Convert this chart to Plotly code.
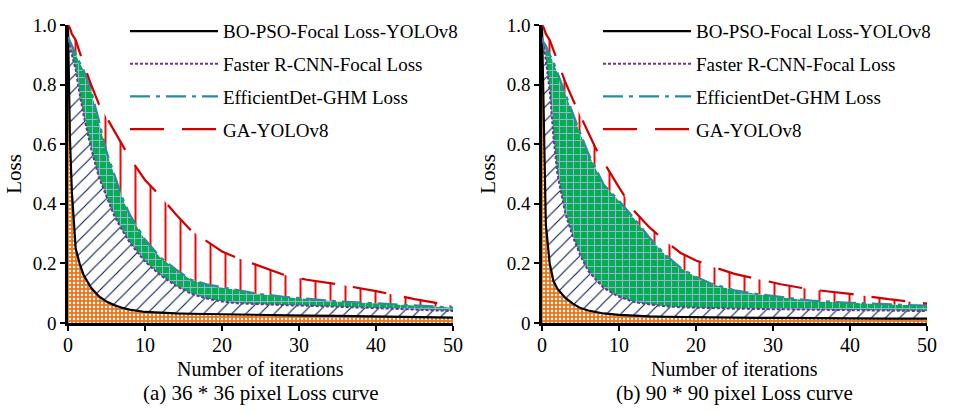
import plotly.graph_objects as go
from plotly.subplots import make_subplots

# ---- data ----
iters = [0, 0.25, 0.5, 1, 1.5, 2, 3, 4, 5, 6, 7, 8, 10, 12, 14, 16, 18, 20, 22, 25, 28, 31, 35, 40, 45, 50]

a_bopso = [1.0, 0.62, 0.44, 0.25, 0.20, 0.163, 0.118, 0.09, 0.072, 0.060, 0.051, 0.045, 0.037, 0.034, 0.032, 0.031,
           0.030, 0.029, 0.028, 0.027, 0.026, 0.025, 0.024, 0.022, 0.020, 0.018]
a_faster = [0.95, 0.93, 0.90, 0.85, 0.77, 0.70, 0.585, 0.49, 0.424, 0.36, 0.313, 0.27, 0.206, 0.16, 0.125, 0.098,
            0.082, 0.072, 0.066, 0.062, 0.060, 0.058, 0.055, 0.050, 0.045, 0.040]
a_effdet = [0.96, 0.945, 0.93, 0.90, 0.875, 0.85, 0.78, 0.68, 0.575, 0.50, 0.424, 0.365, 0.28, 0.22, 0.18, 0.145,
            0.13, 0.12, 0.11, 0.097, 0.088, 0.082, 0.073, 0.066, 0.060, 0.052]
a_gayolo = [1.0, 0.99, 0.97, 0.95, 0.91, 0.87, 0.80, 0.735, 0.69, 0.645, 0.60, 0.555, 0.48, 0.425, 0.365, 0.31,
            0.275, 0.24, 0.218, 0.19, 0.162, 0.145, 0.13, 0.107, 0.08, 0.058]

b_bopso = [1.0, 0.60, 0.33, 0.20, 0.14, 0.115, 0.085, 0.065, 0.050, 0.042, 0.036, 0.032, 0.027, 0.024, 0.022, 0.021,
           0.020, 0.019, 0.018, 0.018, 0.017, 0.017, 0.016, 0.016, 0.015, 0.015]
b_faster = [0.96, 0.93, 0.88, 0.78, 0.62, 0.50, 0.37, 0.29, 0.225, 0.175, 0.145, 0.118, 0.088, 0.07, 0.062, 0.056,
            0.053, 0.051, 0.050, 0.048, 0.047, 0.046, 0.045, 0.043, 0.041, 0.040]
b_effdet = [0.95, 0.94, 0.93, 0.90, 0.875, 0.84, 0.77, 0.70, 0.635, 0.57, 0.52, 0.465, 0.41, 0.35, 0.285, 0.23,
            0.185, 0.155, 0.132, 0.11, 0.097, 0.087, 0.075, 0.068, 0.062, 0.058]
b_gayolo = [1.0, 0.99, 0.97, 0.95, 0.915, 0.88, 0.81, 0.75, 0.695, 0.64, 0.585, 0.54, 0.455, 0.375, 0.32, 0.275,
            0.235, 0.21, 0.19, 0.165, 0.148, 0.13, 0.112, 0.098, 0.08, 0.065]

names = ["BO-PSO-Focal Loss-YOLOv8", "Faster R-CNN-Focal Loss", "EfficientDet-GHM Loss", "GA-YOLOv8"]
x_ticks = [0, 10, 20, 30, 40, 50]
y_ticks = [0, 0.2, 0.4, 0.6, 0.8, 1.0]
y_ticktext = ["0", "0.2", "0.4", "0.6", "0.8", "1.0"]
x_title = "Number of iterations"
captions = ["(a) 36 * 36 pixel Loss curve", "(b) 90 * 90 pixel Loss curve"]

FONT = "Liberation Serif"

line_styles = [
    dict(color="black", width=2.2, dash="solid"),
    dict(color="#7030A0", width=2, dash="3px,2px"),
    dict(color="#2E8B9A", width=2.2, dash="20px,6px,4px,6px"),
    dict(color="#D00000", width=2.2, dash="34px,18px"),
]
fills = ["tozeroy", "tonexty", "tonexty", "tonexty"]
patterns = [
    dict(shape=".", fgcolor="white", bgcolor="#E8761E", size=4, solidity=0.3, fillmode="replace"),
    dict(shape="/", fgcolor="#061A50", bgcolor="white", size=10, solidity=0.11, fillmode="replace"),
    dict(shape="+", fgcolor="#9CAED6", bgcolor="#00B050", size=7, solidity=0.28, fillmode="replace"),
    dict(shape="|", fgcolor="#FF0000", bgcolor="white", size=15, solidity=0.13, fillmode="replace"),
]

fig = make_subplots(rows=1, cols=2, horizontal_spacing=0.1036)

panels = [[a_bopso, a_faster, a_effdet, a_gayolo], [b_bopso, b_faster, b_effdet, b_gayolo]]
for p, series in enumerate(panels):
    # patterned fills first (no legend)
    for i, ys in enumerate(series):
        fig.add_trace(go.Scatter(
            x=iters, y=ys, mode="lines", line=dict(width=0, color="rgba(0,0,0,0)"),
            fill=fills[i], fillpattern=patterns[i], fillcolor="rgba(0,0,0,0)",
            showlegend=False, hoverinfo="skip",
        ), row=1, col=p + 1)
    # lines on top
    for i, ys in enumerate(series):
        fig.add_trace(go.Scatter(
            x=iters, y=ys, name=names[i], mode="lines", line=line_styles[i],
            legend="legend" if p == 0 else "legend2",
            legendgroup=f"g{p}{i}",
        ), row=1, col=p + 1)

axis_common = dict(showline=True, linecolor="black", linewidth=2.5, ticks="outside", ticklen=5,
                   tickwidth=1.5, tickcolor="black", showgrid=False, zeroline=False, mirror=False)
for c in (1, 2):
    fig.update_xaxes(range=[0, 50], tickvals=x_ticks, **axis_common, ticklabelstandoff=-3,
                     tickfont=dict(family=FONT, size=20, color="black"), row=1, col=c)
    fig.update_yaxes(range=[0, 1.0], tickvals=y_ticks, ticktext=y_ticktext, **axis_common,
                     tickfont=dict(family=FONT, size=19, color="black"),
                     title=dict(text="Loss", font=dict(family=FONT, size=21, color="black"), standoff=6),
                     row=1, col=c)

for c, cap in enumerate(captions):
    xc = (0.0 + 0.4482) / 2 if c == 0 else (0.5518 + 1.0) / 2
    fig.add_annotation(text=x_title, x=xc, y=-0.153, xref="paper", yref="paper", showarrow=False,
                       xanchor="center", yanchor="middle", font=dict(family=FONT, size=20, color="black"))
    fig.add_annotation(text=cap, x=xc, y=-0.234, xref="paper", yref="paper", showarrow=False,
                       xanchor="center", yanchor="middle", font=dict(family=FONT, size=21, color="black"))

legend_common = dict(font=dict(family=FONT, size=19, color="black"), bgcolor="rgba(0,0,0,0)",
                     itemwidth=88, tracegroupgap=5, yanchor="top", xanchor="left", y=1.043,
                     itemclick=False)
fig.update_layout(
    width=965, height=412,
    margin=dict(l=68, r=38, t=15, b=89),
    plot_bgcolor="white", paper_bgcolor="white",
    legend=dict(x=(125 - 68) / 859, **legend_common),
    legend2=dict(x=(598 - 68) / 859, **legend_common),
)

fig.write_html("out.html")
